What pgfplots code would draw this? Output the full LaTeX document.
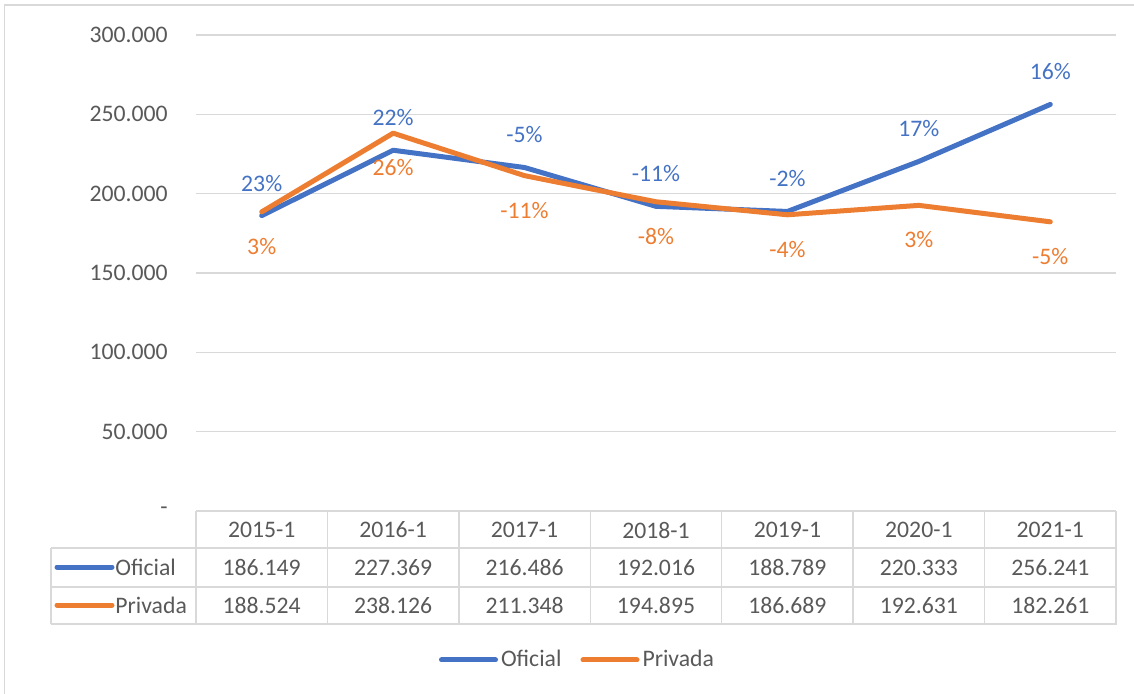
\documentclass[border=0pt]{standalone}
\usepackage{pgfplots}
\pgfplotsset{compat=1.18}
\usepackage{fontspec}
\setmainfont{Carlito}
\definecolor{oficial}{HTML}{4472C4}
\definecolor{privada}{HTML}{ED7D31}
\definecolor{txt}{HTML}{595959}
\definecolor{gridc}{HTML}{D9D9D9}
\begin{document}
\begin{tikzpicture}[font=\fontsize{11.85}{14}\selectfont]
% 1 px of the reference = 0.5pt, origin top left
\begin{scope}[x=0.5pt,y=-0.5pt]
  \useasboundingbox (0,0) rectangle (1134,694);
  \draw[gridc, line width=0.75pt] (4.7,700) -- (4.7,5) -- (1140,5);
\end{scope}
\begin{axis}[
  at={(98pt,-255.5pt)}, anchor=south west,
  scale only axis, width=460pt, height=238pt,
  xmin=-0.5, xmax=6.5, ymin=0, ymax=300000,
  xtick=\empty,
  ytick={0,50000,100000,150000,200000,250000,300000},
  yticklabels={-\hspace{6pt},50.000,100.000,150.000,200.000,250.000,300.000},
  scaled y ticks=false,
  yticklabel style={anchor=east, inner sep=0pt, xshift=-14pt, text=txt},
  ymajorgrids, grid style={gridc, line width=0.75pt},
  major tick length=0pt,
  axis line style={draw=none},
  clip=false,
  legend columns=2,
  legend style={draw=none, fill=none, at={(0.4152,-0.313)}, anchor=center,
    inner sep=0pt, nodes={text=txt, inner sep=1.5pt},
    /tikz/every even column/.append style={column sep=8pt}},
  legend image code/.code={\draw[line width=2.5pt, line cap=round] (0pt,0pt) -- (27pt,0pt);},
]
\addplot[oficial, line width=2.5pt, line cap=round, line join=round, mark=none,
  nodes near coords, point meta=explicit symbolic,
  every node near coord/.style={anchor=center, yshift=16.3pt, text=oficial, inner sep=0pt}]
  coordinates {(0,186149)[23\%] (1,227369)[22\%] (2,216486)[-5\%] (3,192016)[-11\%]
               (4,188789)[-2\%] (5,220333)[17\%] (6,256241)[16\%]};
\addlegendentry{Oficial}
\addplot[privada, line width=2.5pt, line cap=round, line join=round, mark=none,
  nodes near coords, point meta=explicit symbolic,
  every node near coord/.style={anchor=center, yshift=-17.2pt, text=privada, inner sep=0pt}]
  coordinates {(0,188524)[3\%] (1,238126)[26\%] (2,211348)[-11\%] (3,194895)[-8\%]
               (4,186689)[-4\%] (5,192631)[3\%] (6,182261)[-5\%]};
\addlegendentry{Privada}
\end{axis}
% data table under the plot
\begin{scope}[x=0.5pt,y=-0.5pt]
  \draw[gridc, line width=0.75pt] (51,548) -- (1117,548) (51,587) -- (1117,587)
    (51,624) -- (1117,624) (51,548) -- (51,624);
  \foreach \i in {0,...,7} {
    \draw[gridc, line width=0.75pt] ({196+131.43*\i},511) -- ({196+131.43*\i},624);
  }
  \foreach \lab [count=\i from 0] in {2015-1,2016-1,2017-1,2018-1,2019-1,2020-1,2021-1}
    \node[text=txt, inner sep=0pt] at ({261.7+131.43*\i},530) {\lab};
  \foreach \v [count=\i from 0] in {186.149,227.369,216.486,192.016,188.789,220.333,256.241}
    \node[text=txt, inner sep=0pt] at ({261.7+131.43*\i},567.5) {\v};
  \foreach \v [count=\i from 0] in {188.524,238.126,211.348,194.895,186.689,192.631,182.261}
    \node[text=txt, inner sep=0pt] at ({261.7+131.43*\i},605.5) {\v};
  \draw[oficial, line width=2.5pt, line cap=round] (57,567) -- (112,567);
  \node[text=txt, anchor=west, inner sep=0pt] at (115,567) {Oficial};
  \draw[privada, line width=2.5pt, line cap=round] (57,605) -- (112,605);
  \node[text=txt, anchor=west, inner sep=0pt] at (115,605) {Privada};
\end{scope}
\end{tikzpicture}
\end{document}
